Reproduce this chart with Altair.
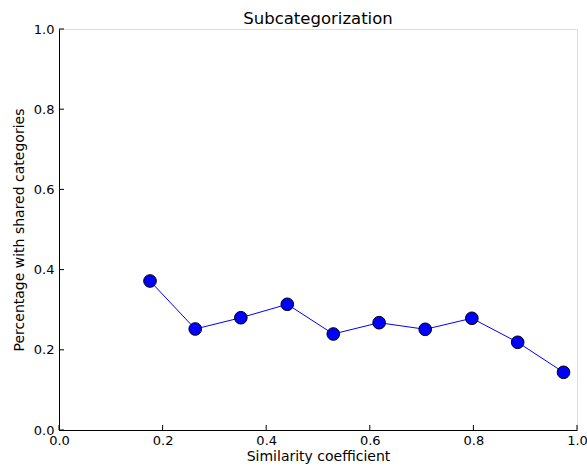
import altair as alt
import pandas as pd

# Similarity bins (centres) and share of pairs with shared categories
similarity = [0.1757, 0.263, 0.351, 0.4407, 0.5295, 0.618, 0.707, 0.797, 0.8855, 0.974]
shared_pct = [0.3716, 0.2519, 0.280, 0.3135, 0.2394, 0.2676, 0.2511, 0.2786, 0.2187, 0.1439]

x_ticks = [0.0, 0.2, 0.4, 0.6, 0.8, 1.0]
y_ticks = [0.0, 0.2, 0.4, 0.6, 0.8, 1.0]

W, H = 518, 401
FONT = "DejaVu Sans"

df = pd.DataFrame({"sim": similarity, "pct": shared_pct})
xt = pd.DataFrame({"v": x_ticks})
yt = pd.DataFrame({"v": y_ticks})

xscale = alt.Scale(domain=[0, 1], nice=False, zero=False)
yscale = alt.Scale(domain=[0, 1], nice=False, zero=False)

x_axis = alt.Axis(values=x_ticks, format=".1f", ticks=False, grid=False,
                  domainColor="black", domainWidth=1, labelFontSize=13,
                  labelFont=FONT, labelColor="black", labelPadding=4,
                  title="Similarity coefficient", titleFont=FONT,
                  titleFontSize=14, titleFontWeight="normal",
                  titleColor="black", titlePadding=2, labelFlush=False)
y_axis = alt.Axis(values=y_ticks, format=".1f", ticks=False, grid=False,
                  domainColor="black", domainWidth=1, labelFontSize=13,
                  labelFont=FONT, labelColor="black", labelPadding=5,
                  title="Percentage with shared categories", titleFont=FONT,
                  titleFontSize=14, titleFontWeight="normal",
                  titleColor="black", titlePadding=7, labelFlush=False)

line = alt.Chart(df).mark_line(color="#0000ff", strokeWidth=1).encode(
    x=alt.X("sim:Q", scale=xscale, axis=x_axis),
    y=alt.Y("pct:Q", scale=yscale, axis=y_axis),
)
points = alt.Chart(df).mark_point(
    shape="circle", filled=True, fill="#0000ff", stroke="black",
    strokeWidth=1, size=160, opacity=1
).encode(x=alt.X("sim:Q", scale=xscale), y=alt.Y("pct:Q", scale=yscale))

# inward-pointing tick marks on the bottom and left spines
xtick_marks = alt.Chart(xt).mark_rule(color="black", strokeWidth=1).encode(
    x=alt.X("v:Q", scale=xscale), y=alt.value(H), y2=alt.value(H - 5))
ytick_marks = alt.Chart(yt).mark_rule(color="black", strokeWidth=1).encode(
    y=alt.Y("v:Q", scale=yscale), x=alt.value(0), x2=alt.value(5))

chart = alt.layer(line, points, xtick_marks, ytick_marks).properties(
    width=W, height=H,
    title=alt.TitleParams("Subcategorization", font=FONT, fontSize=16.5,
                          fontWeight="normal", color="black", offset=-4,
                          anchor="middle"),
    autosize=alt.AutoSizeParams(type="none"),
    padding={"left": 59, "top": 29, "right": 10, "bottom": 40},
).configure_view(stroke=None).configure(background="white")

chart.save("out.html", embed_options={"renderer": "svg", "actions": False})
